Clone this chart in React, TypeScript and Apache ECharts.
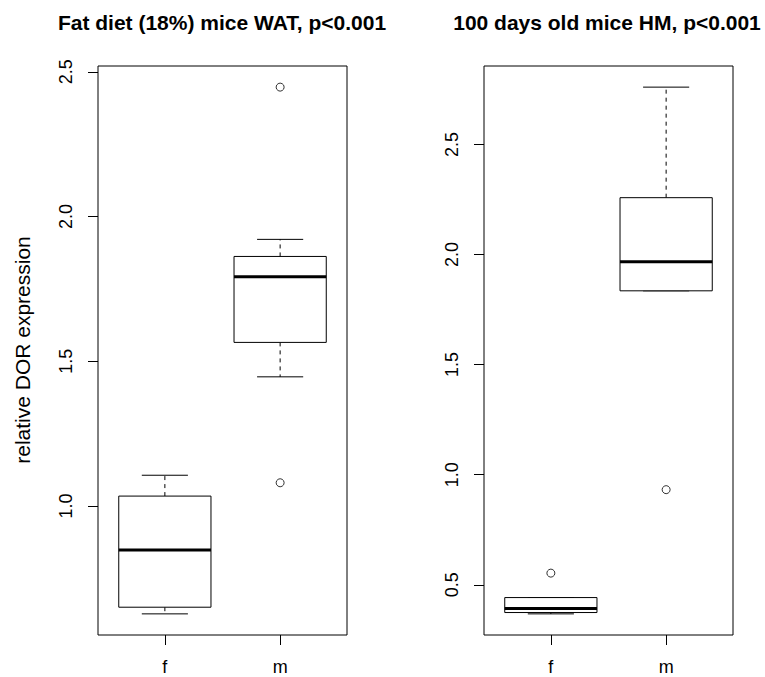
import React, { useEffect, useRef } from "react";
import * as echarts from "echarts";

// ---- data ----
const categories = ["f", "m"];
const categoryPositions = [1, 2];

// [lower whisker, Q1, median, Q3, upper whisker]
const watStats = [
  [0.627, 0.65, 0.848, 1.034, 1.106],
  [1.446, 1.565, 1.792, 1.862, 1.921],
];
const watOutliers = [
  [2, 2.447],
  [2, 1.08],
];

const hmStats = [
  [0.368, 0.374, 0.392, 0.442, 0.442],
  [1.835, 1.835, 1.967, 2.258, 2.76],
];
const hmOutliers = [
  [1, 0.553],
  [2, 0.932],
];

const titles = ["Fat diet (18%) mice WAT, p<0.001", "100 days old mice HM, p<0.001"];
const yAxisTitle = "relative DOR expression";
const watTicks = [1.0, 1.5, 2.0, 2.5];
const hmTicks = [0.5, 1.0, 1.5, 2.0, 2.5];

const FONT = "'Liberation Sans', Arial, Helvetica, sans-serif";

function renderBox(params: any, api: any) {
  const x = api.value(0);
  const lo = api.value(1);
  const q1 = api.value(2);
  const med = api.value(3);
  const q3 = api.value(4);
  const hi = api.value(5);
  const half = 0.4;
  const cap = 0.2;
  const c = (xx: number, yy: number) => api.coord([xx, yy]);
  const [xl, yq3] = c(x - half, q3);
  const [xr, yq1] = c(x + half, q1);
  const [, ymed] = c(x, med);
  const [xc, yhi] = c(x, hi);
  const [, ylo] = c(x, lo);
  const [cl] = c(x - cap, hi);
  const [cr] = c(x + cap, hi);
  const dashed = { stroke: "#000", lineWidth: 1, lineDash: [4, 4], fill: null };
  const solid = { stroke: "#000", lineWidth: 1, fill: null };
  return {
    type: "group",
    children: [
      { type: "line", shape: { x1: xc, y1: yq3, x2: xc, y2: yhi }, style: dashed },
      { type: "line", shape: { x1: xc, y1: yq1, x2: xc, y2: ylo }, style: dashed },
      { type: "line", shape: { x1: cl, y1: yhi, x2: cr, y2: yhi }, style: solid },
      { type: "line", shape: { x1: cl, y1: ylo, x2: cr, y2: ylo }, style: solid },
      {
        type: "rect",
        shape: { x: xl, y: yq3, width: xr - xl, height: yq1 - yq3 },
        style: { fill: "#fff", stroke: "#000", lineWidth: 1 },
      },
      { type: "line", shape: { x1: xl, y1: ymed, x2: xr, y2: ymed }, style: { stroke: "#000", lineWidth: 3 } },
    ],
  };
}

function boxData(stats: number[][]) {
  return stats.map((s, i) => [categoryPositions[i], ...s]);
}

function xAxisFor(gridIndex: number) {
  return {
    type: "value",
    gridIndex,
    min: 0.42,
    max: 2.58,
    axisLine: { show: false },
    splitLine: { show: false },
    axisTick: { show: true, length: 10, customValues: categoryPositions, lineStyle: { color: "#000", width: 1 } },
    axisLabel: {
      show: true,
      customValues: categoryPositions,
      margin: 23,
      fontSize: 18,
      fontFamily: FONT,
      color: "#000",
      formatter: (v: number) => categories[categoryPositions.indexOf(Math.round(v))] ?? "",
    },
  };
}

function yAxisFor(gridIndex: number, min: number, max: number, ticks: number[]) {
  return {
    type: "value",
    gridIndex,
    min,
    max,
    axisLine: { show: false },
    splitLine: { show: false },
    axisTick: { show: true, length: 10, customValues: ticks, lineStyle: { color: "#000", width: 1 } },
    axisLabel: {
      show: true,
      customValues: ticks,
      rotate: 90,
      margin: 23,
      fontSize: 18,
      fontFamily: FONT,
      color: "#000",
      formatter: (v: number) => v.toFixed(1),
    },
  };
}

export default function App() {
  const ref = useRef<HTMLDivElement>(null);
  useEffect(() => {
    if (!ref.current) return;
    const chart = echarts.init(ref.current, null, { renderer: "svg" });
    const outlierStyle = {
      type: "scatter",
      symbol: "circle",
      symbolSize: 8,
      itemStyle: { color: "#fff", borderColor: "#000", borderWidth: 1 },
      z: 5,
    };
    chart.setOption({
      animation: false,
      backgroundColor: "#fff",
      grid: [
        { left: 98, top: 66, width: 249, height: 569, show: true, borderColor: "#000", borderWidth: 1, backgroundColor: "transparent" },
        { left: 484, top: 66, width: 249, height: 569, show: true, borderColor: "#000", borderWidth: 1, backgroundColor: "transparent" },
      ],
      xAxis: [xAxisFor(0), xAxisFor(1)],
      yAxis: [yAxisFor(0, 0.554, 2.52, watTicks), yAxisFor(1, 0.272, 2.856, hmTicks)],
      graphic: [
        {
          type: "text",
          x: 222,
          y: 22,
          style: { text: titles[0], font: `bold 21px ${FONT}`, fill: "#000", align: "center", verticalAlign: "middle" },
        },
        {
          type: "text",
          x: 607,
          y: 22,
          style: { text: titles[1], font: `bold 21px ${FONT}`, fill: "#000", align: "center", verticalAlign: "middle" },
        },
        {
          type: "text",
          x: 22,
          y: 350,
          rotation: Math.PI / 2,
          style: { text: yAxisTitle, font: `21px ${FONT}`, fill: "#000", align: "center", verticalAlign: "middle" },
        },
      ],
      series: [
        { type: "custom", xAxisIndex: 0, yAxisIndex: 0, renderItem: renderBox, data: boxData(watStats), encode: { x: 0, y: [1, 2, 3, 4, 5] } },
        { ...outlierStyle, xAxisIndex: 0, yAxisIndex: 0, data: watOutliers },
        { type: "custom", xAxisIndex: 1, yAxisIndex: 1, renderItem: renderBox, data: boxData(hmStats), encode: { x: 0, y: [1, 2, 3, 4, 5] } },
        { ...outlierStyle, xAxisIndex: 1, yAxisIndex: 1, data: hmOutliers },
      ],
    });
    return () => chart.dispose();
  }, []);
  return <div ref={ref} style={{ position: "absolute", left: 0, top: 0, width: 765, height: 677 }} />;
}
